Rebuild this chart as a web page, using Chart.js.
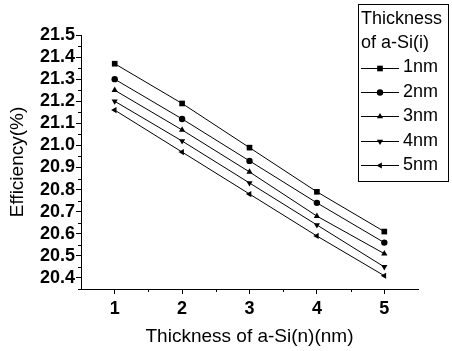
<!DOCTYPE html>
<html>
<head>
<meta charset="utf-8">
<script src="https://cdn.jsdelivr.net/npm/chart.js@4.4.1/dist/chart.umd.min.js"></script>
<style>
  html, body { margin: 0; padding: 0; background: #fff; }
  #wrap { width: 452px; height: 351px; }
</style>
</head>
<body>
<div id="wrap"><canvas id="chart" width="452" height="351"></canvas></div>
<script>
// datos
const thicknessN = [1, 2, 3, 4, 5];
const eff1nm = [21.37, 21.19, 20.99, 20.79, 20.61];
const eff2nm = [21.30, 21.12, 20.93, 20.74, 20.56];
const eff3nm = [21.25, 21.07, 20.88, 20.68, 20.51];
const eff4nm = [21.20, 21.02, 20.83, 20.64, 20.45];
const eff5nm = [21.16, 20.97, 20.78, 20.59, 20.41];
const seriesLabels = ['1nm', '2nm', '3nm', '4nm', '5nm'];

const xTicks = [1, 2, 3, 4, 5];
const xMinorTicks = [1.5, 2.5, 3.5, 4.5];
const yTicks = [20.4, 20.5, 20.6, 20.7, 20.8, 20.9, 21.0, 21.1, 21.2, 21.3, 21.4, 21.5];
const yMinorTicks = [20.35, 20.45, 20.55, 20.65, 20.75, 20.85, 20.95, 21.05, 21.15, 21.25, 21.35, 21.45];

const legendTitle = ['Thickness', 'of a-Si(i)'];

const FONT = '"Liberation Sans", Arial, sans-serif';

const markers = [
  { style: 'rect', rotation: 0, radius: 4 },
  { style: 'circle', rotation: 0, radius: 3.2 },
  { style: 'triangle', rotation: 0, radius: 3.6 },
  { style: 'triangle', rotation: 180, radius: 3.6 },
  { style: 'triangle', rotation: -90, radius: 3.6 }
];

const allSeries = [eff1nm, eff2nm, eff3nm, eff4nm, eff5nm];

const datasets = allSeries.map((vals, i) => ({
  label: seriesLabels[i],
  data: thicknessN.map((x, j) => ({ x: x, y: vals[j] })),
  borderColor: '#000',
  backgroundColor: '#000',
  borderWidth: 1,
  pointStyle: markers[i].style,
  pointRotation: markers[i].rotation,
  pointRadius: markers[i].radius,
  pointBorderWidth: 0,
  tension: 0
}));

// ticks menores hacia afuera
const minorTicks = {
  id: 'minorTicks',
  afterDraw(chart) {
    const ctx = chart.ctx;
    const xs = chart.scales.x, ys = chart.scales.y;
    ctx.save();
    ctx.strokeStyle = '#000';
    ctx.lineWidth = 1;
    ctx.beginPath();
    xMinorTicks.forEach(v => {
      const px = Math.round(xs.getPixelForValue(v)) + 0.5;
      ctx.moveTo(px, xs.top);
      ctx.lineTo(px, xs.top + 3);
    });
    yMinorTicks.forEach(v => {
      const py = Math.round(ys.getPixelForValue(v)) + 0.5;
      ctx.moveTo(ys.right, py);
      ctx.lineTo(ys.right - 3, py);
    });
    ctx.stroke();
    ctx.restore();
  }
};

// leyenda con caja, encima del area del grafico
const boxLegend = {
  id: 'boxLegend',
  afterDraw(chart) {
    const ctx = chart.ctx;
    const box = { left: 358, top: 4, right: 448, bottom: 181 };
    ctx.save();
    ctx.fillStyle = '#fff';
    ctx.fillRect(box.left, box.top, box.right - box.left, box.bottom - box.top);
    ctx.strokeStyle = '#000';
    ctx.lineWidth = 1;
    ctx.strokeRect(box.left + 0.5, box.top + 0.5, box.right - box.left, box.bottom - box.top);

    ctx.fillStyle = '#000';
    ctx.font = '18px ' + FONT;
    ctx.textBaseline = 'middle';
    ctx.textAlign = 'left';
    legendTitle.forEach((t, i) => ctx.fillText(t, box.left + 3, 19 + i * 24.5));

    chart.data.datasets.forEach((ds, i) => {
      const y = 67.5 + i * 24.4;
      ctx.strokeStyle = '#000';
      ctx.beginPath();
      ctx.moveTo(box.left + 3, Math.round(y) + 0.5);
      ctx.lineTo(box.left + 41, Math.round(y) + 0.5);
      ctx.stroke();
      ctx.fillStyle = '#000';
      Chart.helpers.drawPoint(ctx, {
        pointStyle: ds.pointStyle,
        rotation: ds.pointRotation,
        radius: ds.pointRadius,
        borderWidth: 0
      }, box.left + 22, Math.round(y) + 0.5);
      ctx.fillText(ds.label, box.left + 45, y);
    });
    ctx.restore();
  }
};

new Chart(document.getElementById('chart').getContext('2d'), {
  type: 'line',
  data: { datasets },
  options: {
    responsive: false,
    animation: false,
    layout: { padding: { top: 35, right: 34, left: 0, bottom: 0 } },
    plugins: {
      legend: { display: false },
      tooltip: { enabled: false }
    },
    scales: {
      x: {
        type: 'linear',
        min: 0.5,
        max: 5.5,
        afterBuildTicks: s => { s.ticks = xTicks.map(v => ({ value: v })); },
        afterFit: s => { s.height = 62; },
        grid: { drawOnChartArea: false, drawTicks: true, tickLength: 5, color: '#000' },
        border: { display: true, color: '#000', width: 1 },
        ticks: {
          color: '#000',
          padding: 4,
          autoSkip: false,
          maxRotation: 0,
          font: { family: FONT, size: 18, weight: 'bold' },
          callback: v => String(v)
        },
        title: {
          display: true,
          text: 'Thickness of a-Si(n)(nm)',
          color: '#000',
          font: { family: FONT, size: 19 },
          padding: { top: 0, bottom: 3 }
        }
      },
      y: {
        type: 'linear',
        min: 20.35,
        max: 21.5,
        afterBuildTicks: s => { s.ticks = yTicks.map(v => ({ value: v })); },
        afterFit: s => { s.width = 81; },
        grid: { drawOnChartArea: false, drawTicks: true, tickLength: 5, color: '#000' },
        border: { display: true, color: '#000', width: 1 },
        ticks: {
          color: '#000',
          padding: 1,
          autoSkip: false,
          font: { family: FONT, size: 18, weight: 'bold' },
          callback: v => Number(v).toFixed(1)
        },
        title: {
          display: true,
          text: 'Efficiency(%)',
          color: '#000',
          font: { family: FONT, size: 19 },
          padding: { top: 6, bottom: 0 }
        }
      }
    }
  },
  plugins: [minorTicks, boxLegend]
});
</script>
</body>
</html>
